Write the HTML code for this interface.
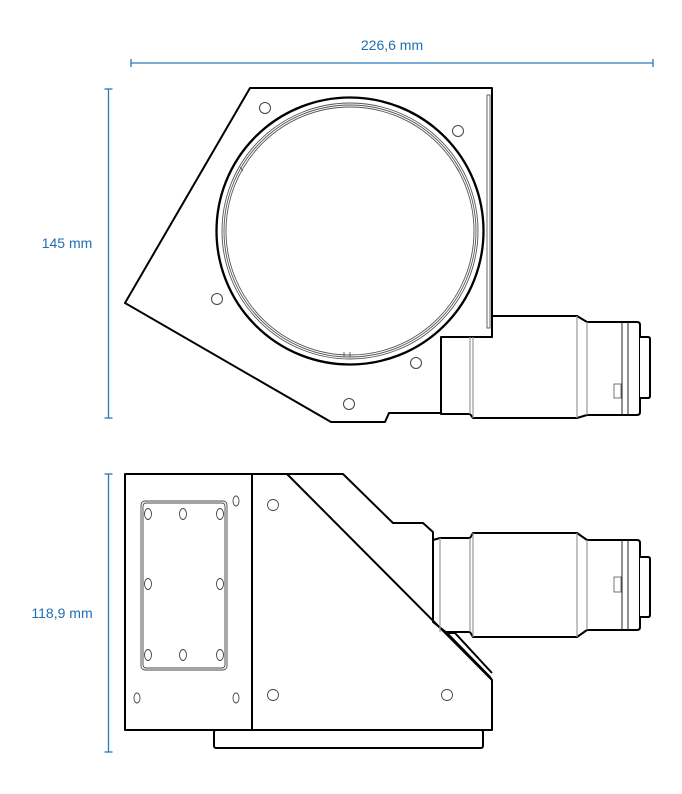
<!DOCTYPE html>
<html><head><meta charset="utf-8"><style>
html,body{margin:0;padding:0;background:#fff;}
svg{display:block;}
text{font-family:"Liberation Sans",sans-serif;font-size:14px;fill:#1f6fb2;}
</style></head><body>
<svg width="682" height="794" viewBox="0 0 682 794" xmlns="http://www.w3.org/2000/svg">
<g stroke="#2a78bd" stroke-width="1.3" fill="none">
<line x1="131" y1="63" x2="653" y2="63"/><line x1="131" y1="59" x2="131" y2="67"/><line x1="653" y1="59" x2="653" y2="67"/>
<line x1="108.5" y1="89" x2="108.5" y2="418"/><line x1="104.5" y1="89" x2="112.5" y2="89"/><line x1="104.5" y1="418" x2="112.5" y2="418"/>
<line x1="108.5" y1="474" x2="108.5" y2="752"/><line x1="104.5" y1="474" x2="112.5" y2="474"/><line x1="104.5" y1="752" x2="112.5" y2="752"/>
</g>
<text x="392" y="50" text-anchor="middle">226,6 mm</text>
<text x="67" y="248" text-anchor="middle">145 mm</text>
<text x="62" y="618" text-anchor="middle">118,9 mm</text>

<g fill="#fff" stroke="#000" stroke-width="2" stroke-linejoin="round">
<path d="M492 316 L577 316 L587 322 L637 322 Q640 322 640 325 L640 412 Q640 415 637 415 L587 415 L577 418 L473 418 L470 414 L441 414 L441 337 L492 337 Z"/>
<path d="M640 337 L648 337 Q650 337 650 339 L650 396 Q650 398 648 398 L640 398" />
<path d="M125 303 L250 88 L492 88 L492 337 L441 337 L441 413 L389 413 L385 422 L331 422 Z"/>
<circle cx="350" cy="231" r="133.5" stroke-width="2.3"/>
</g>
<g fill="none" stroke="#555" stroke-width="0.9">
<circle cx="350" cy="231" r="128"/>
<circle cx="350" cy="231" r="126"/>
<circle cx="350" cy="231" r="124"/>
<rect x="487" y="95" width="3" height="233"/>
<line x1="344" y1="352" x2="344" y2="357"/><line x1="350" y1="352" x2="350" y2="357"/>
<line x1="240" y1="167" x2="243" y2="171"/><line x1="456" y1="167" x2="459" y2="171"/>
</g>
<g fill="#fff" stroke="#444" stroke-width="1">
<circle cx="265" cy="108" r="5.5"/><circle cx="458" cy="131" r="5.5"/><circle cx="217" cy="299" r="5.5"/><circle cx="416" cy="363" r="5.5"/><circle cx="349" cy="404" r="5.5"/>
</g>
<g stroke="#999" stroke-width="1.2"><line x1="470" y1="337" x2="470" y2="414"/><line x1="473" y1="337" x2="473" y2="418"/><line x1="577" y1="316" x2="577" y2="418"/><line x1="587" y1="322" x2="587" y2="415"/></g>
<g stroke="#222" stroke-width="1"><line x1="622" y1="322" x2="622" y2="415"/><line x1="628" y1="322" x2="628" y2="415"/></g>
<rect x="614" y="384" width="7" height="14" fill="none" stroke="#666" stroke-width="0.9"/>

<g fill="#fff" stroke="#000" stroke-width="2" stroke-linejoin="round">
<rect x="214" y="730" width="269" height="18" rx="2"/>
<path d="M433 540 L440 538 L470 538 L473 533 L577 533 L587 540 L637 540 Q640 540 640 543 L640 627 Q640 630 637 630 L587 630 L577 637 L473 637 L470 632 L440 632 L433 632 Z"/>
<path d="M640 557 L648 557 Q650 557 650 559 L650 615 Q650 617 648 617 L640 617"/>
<path d="M125 474 L343 474 L393 523 L423 523 L433 532 L433 622 L447 633 L490 677 L492 680 L492 730 L125 730 Z"/>
<line x1="252" y1="474" x2="252" y2="730"/>
<line x1="287" y1="474" x2="492" y2="680"/>
<line x1="447" y1="633" x2="455" y2="633"/>
<line x1="455" y1="633" x2="492" y2="673"/>
</g>
<g stroke="#999" stroke-width="1.2"><line x1="440" y1="538" x2="440" y2="632"/><line x1="470" y1="538" x2="470" y2="632"/><line x1="473" y1="533" x2="473" y2="637"/><line x1="577" y1="533" x2="577" y2="637"/><line x1="587" y1="540" x2="587" y2="630"/></g>
<g stroke="#222" stroke-width="1"><line x1="622" y1="540" x2="622" y2="630"/><line x1="628" y1="540" x2="628" y2="630"/></g>
<rect x="614" y="577" width="7" height="15" fill="none" stroke="#666" stroke-width="0.9"/>
<g fill="none" stroke="#444" stroke-width="0.9">
<rect x="141" y="501" width="86" height="169" rx="4"/>
<rect x="143" y="503" width="82" height="165" rx="3"/>
<ellipse cx="148" cy="514" rx="3.5" ry="5.5"/><ellipse cx="183" cy="514" rx="3.5" ry="5.5"/><ellipse cx="220" cy="514" rx="3.5" ry="5.5"/>
<ellipse cx="148" cy="584" rx="3.5" ry="5.5"/><ellipse cx="220" cy="584" rx="3.5" ry="5.5"/>
<ellipse cx="148" cy="655" rx="3.5" ry="5.5"/><ellipse cx="183" cy="655" rx="3.5" ry="5.5"/><ellipse cx="220" cy="655" rx="3.5" ry="5.5"/>
<ellipse cx="236" cy="501" rx="3" ry="5"/><ellipse cx="137" cy="698" rx="3" ry="5"/><ellipse cx="236" cy="698" rx="3" ry="5"/>
<circle cx="273" cy="505" r="5.5"/><circle cx="273" cy="695" r="5.5"/><circle cx="447" cy="695" r="5.5"/>
</g>
</svg>
</body></html>
